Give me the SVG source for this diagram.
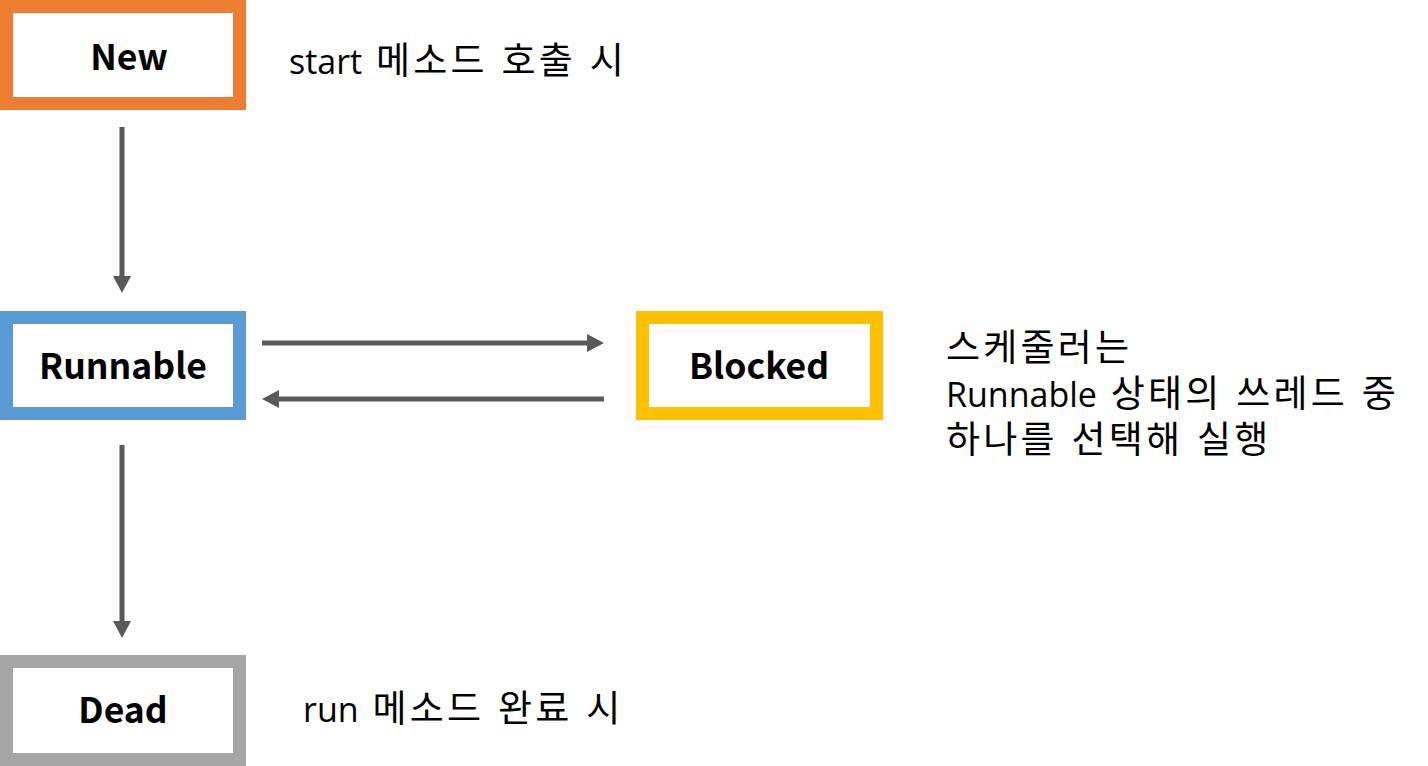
<svg xmlns="http://www.w3.org/2000/svg" width="1428" height="766" viewBox="0 0 1428 766">
<style>
.box{fill:#fff;stroke-width:13}
.lbl{font-family:"Noto Sans CJK KR","Malgun Gothic","Liberation Sans",sans-serif;font-weight:bold;font-size:35.5px;fill:#000;text-anchor:middle}
.note{font-family:"Open Sans","Noto Sans CJK KR","Malgun Gothic",sans-serif;font-size:34px;fill:#000;word-spacing:1px}
.k{font-size:37px;letter-spacing:3.2px}
.conn{stroke:#595959;stroke-width:5;fill:none;marker-end:url(#ah)}
</style>
<defs>
<marker id="ah" markerUnits="userSpaceOnUse" markerWidth="17" markerHeight="18" refX="0" refY="9" orient="auto" viewBox="0 0 17 18">
<path d="M0,0 L17,9 L0,18 z" fill="#595959"/>
</marker>
</defs>
<rect width="1428" height="766" fill="#fff"/>
<g id="connectors">
<line class="conn" x1="122" y1="127" x2="122" y2="276"/>
<line class="conn" x1="122" y1="445" x2="122" y2="621"/>
<line class="conn" x1="262" y1="343" x2="587" y2="343"/>
<line class="conn" x1="604" y1="399" x2="279" y2="399"/>
</g>
<g id="new">
<rect class="box" x="6.5" y="6.5" width="233" height="97" stroke="#ed7d31"/>
<text class="lbl" x="129" y="70">New</text>
</g>
<g id="runnable">
<rect class="box" x="6.5" y="317.5" width="233" height="96" stroke="#5b9bd5"/>
<text class="lbl" x="123" y="379">Runnable</text>
</g>
<g id="blocked">
<rect class="box" x="642.5" y="317.5" width="234" height="96" stroke="#ffc000"/>
<text class="lbl" x="759" y="379">Blocked</text>
</g>
<g id="dead">
<rect class="box" x="6.5" y="661.5" width="233" height="98" stroke="#a5a5a5"/>
<text class="lbl" x="123" y="723">Dead</text>
</g>
<g id="notes">
<text class="note" x="289" y="74">start<tspan class="k"> 메소드 호출 시</tspan></text>
<text class="note" x="946" y="361"><tspan class="k">스케줄러는</tspan></text>
<text class="note" x="946" y="407">Runnable<tspan class="k"> 상태의 쓰레드 중</tspan></text>
<text class="note" x="946" y="453"><tspan class="k">하나를 선택해 실행</tspan></text>
<text class="note" x="303" y="722">run<tspan class="k"> 메소드 완료 시</tspan></text>
</g>
</svg>
